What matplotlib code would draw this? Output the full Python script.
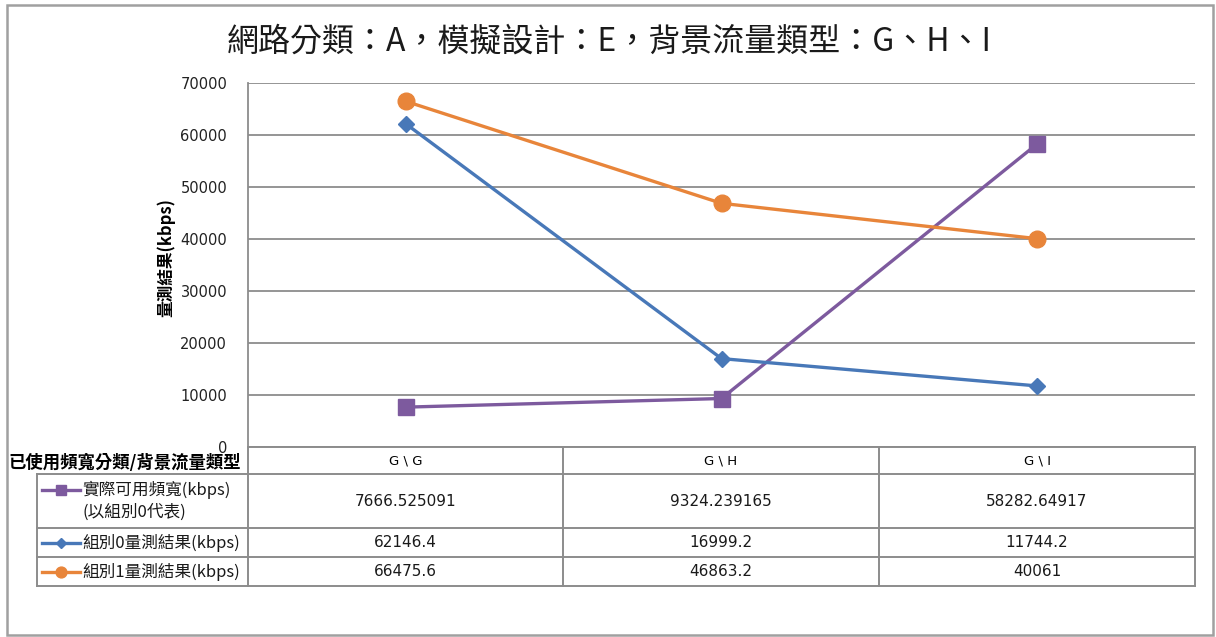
import matplotlib
matplotlib.use('Agg')
import matplotlib.pyplot as plt
from matplotlib.lines import Line2D
from matplotlib.patches import Rectangle

plt.rcParams['font.family'] = ['Noto Sans CJK TC', 'DejaVu Sans']

title = '網路分類：A，模擬設計：E，背景流量類型：G、H、I'
ylabel = '量測結果(kbps)'
table_head = '已使用頻寬分類/背景流量類型'
categories = ['G \\ G', 'G \\ H', 'G \\ I']

series_names = ['實際可用頻寬(kbps)\n(以組別0代表)',
                '組別0量測結果(kbps)',
                '組別1量測結果(kbps)']
bw_real = [7666.525091, 9324.239165, 58282.64917]
grp0 = [62146.4, 16999.2, 11744.2]
grp1 = [66475.6, 46863.2, 40061]
series_vals = [bw_real, grp0, grp1]
series_txt = [['7666.525091', '9324.239165', '58282.64917'],
              ['62146.4', '16999.2', '11744.2'],
              ['66475.6', '46863.2', '40061']]

colors = ['#7d5a9e', '#4878b8', '#e8853a']
markers = ['s', 'D', 'o']
msizes = [11, 8, 12]

W, H = 1216, 637
fig = plt.figure(figsize=(W / 100, H / 100), dpi=100)

def fx(x):
    return x / W

def fy(y):
    return 1 - y / H

# plot area in pixel coords of the reference
x0, x1 = 248, 1195
y_top, y_bot = 83, 447
ax = fig.add_axes([fx(x0), fy(y_bot), fx(x1) - fx(x0), fy(y_top) - fy(y_bot)])

xs = list(range(len(categories)))
for vals, c, m, ms in zip(series_vals, colors, markers, msizes):
    ax.plot(xs, vals, color=c, lw=2.4, marker=m, ms=ms, zorder=3)

ax.set_xlim(-0.5, len(categories) - 0.5)
ax.set_ylim(0, 70000)
ax.set_yticks(range(0, 70001, 10000))
ax.set_xticks([])
ax.tick_params(axis='y', length=0, pad=15, labelsize=10.5, labelcolor='#222222')
for lab in ax.get_yticklabels():
    lab.set_family(['DejaVu Sans'])
ax.grid(axis='y', color='#8c8c8c', lw=1.3)
for s in ['top', 'right', 'bottom']:
    ax.spines[s].set_visible(False)
ax.spines['left'].set_color('#8c8c8c')
ax.spines['left'].set_linewidth(1.3)

fig.text(fx(166), fy(258), ylabel, rotation=90, ha='center', va='center',
         fontsize=12, fontweight='bold')
fig.text(fx(609), fy(42), title, ha='center', va='center', fontsize=23,
         color='#1a1a1a')

# data table below the plot
gc = '#8c8c8c'
row_y = [447, 474, 528, 557, 586]
col_x = [37, 248, 563, 879, 1195]

def hline(y, xa, xb):
    fig.add_artist(Line2D([fx(xa), fx(xb)], [fy(y), fy(y)], color=gc, lw=1.4))

def vline(x, ya, yb):
    fig.add_artist(Line2D([fx(x), fx(x)], [fy(ya), fy(yb)], color=gc, lw=1.4))

hline(row_y[0], col_x[1], col_x[-1])
for y in row_y[1:]:
    hline(y, col_x[0], col_x[-1])
vline(col_x[0], row_y[1], row_y[-1])
for x in col_x[1:]:
    vline(x, row_y[0], row_y[-1])

fig.text(fx(8), fy(463), table_head, ha='left', va='center',
         fontsize=12.5, fontweight='bold')
for j, cat in enumerate(categories):
    fig.text(fx((col_x[j + 1] + col_x[j + 2]) / 2), fy((row_y[0] + row_y[1]) / 2),
             cat, ha='center', va='center', fontsize=9.5, family=['DejaVu Sans'])

for i in range(len(series_names)):
    yc = fy((row_y[i + 1] + row_y[i + 2]) / 2)
    ky = yc + (0.018 if i == 0 else 0)
    fig.add_artist(Line2D([fx(42), fx(80)], [ky, ky], color=colors[i], lw=2.4))
    fig.add_artist(Line2D([fx(61)], [ky], color=colors[i],
                          marker=markers[i], ms=msizes[i] * 0.65, lw=0))
    fig.text(fx(82), yc, series_names[i], ha='left', va='center', fontsize=12,
             linespacing=1.35, color='#1a1a1a')
    for j in range(len(categories)):
        fig.text(fx((col_x[j + 1] + col_x[j + 2]) / 2), yc, series_txt[i][j],
                 ha='center', va='center', fontsize=11, family=['DejaVu Sans'],
                 color='#1a1a1a')

# outer chart border
fig.add_artist(Rectangle((fx(7), fy(635)), fx(1213) - fx(7), fy(5) - fy(635),
                         fill=False, ec='#a0a0a0', lw=1.8))

fig.savefig('out.png', dpi=100)
